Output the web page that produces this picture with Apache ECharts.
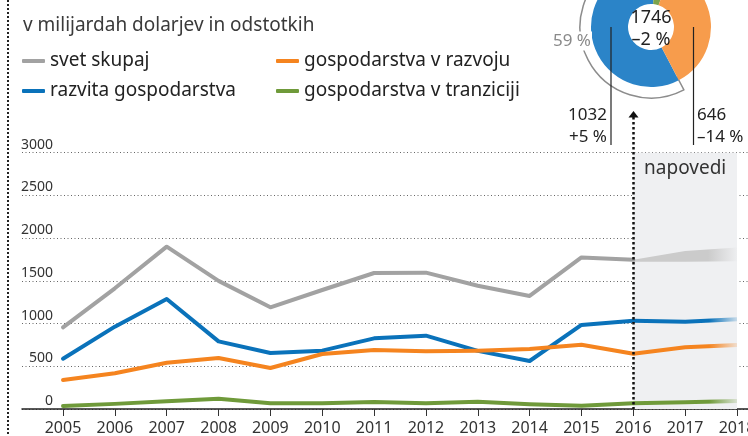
<!DOCTYPE html>
<html><head><meta charset="utf-8">
<script src="https://cdn.jsdelivr.net/npm/echarts@6/dist/echarts.min.js"></script>
<style>html,body{margin:0;padding:0;background:#fff}#c{width:748px;height:436px}</style>
</head><body><div id="c"></div>
<script>
// ---- data ----
const years = [2005, 2006, 2007, 2008, 2009, 2010, 2011, 2012, 2013, 2014, 2015, 2016];
const forecastYears = [2016, 2017, 2018];
const tickYears = [2005, 2006, 2007, 2008, 2009, 2010, 2011, 2012, 2013, 2014, 2015, 2016, 2017, 2018];
const world      = [956, 1413, 1900, 1500, 1190, 1393, 1592, 1596, 1443, 1323, 1774, 1746];
const developed  = [589, 964, 1288, 792, 655, 683, 827, 858, 680, 562, 984, 1032];
const developing = [339, 418, 542, 597, 480, 644, 690, 675, 682, 702, 752, 646];
const transition = [35, 60, 90, 121, 67, 67, 82, 67, 86, 57, 39, 68];
const worldLow   = [1746, 1748, 1752];
const worldHigh  = [1746, 1850, 1890];
const developedF = [1032, 1022, 1050];
const developingF= [646, 722, 750];
const transitionF= [68, 78, 95];
const yTicks = [0, 500, 1000, 1500, 2000, 2500, 3000];
const names = ['svet skupaj', 'razvita gospodarstva', 'gospodarstva v razvoju', 'gospodarstva v tranziciji'];

const FONT = '"Noto Sans", "DejaVu Sans", sans-serif';
const C = { world: '#a2a2a2', dev: '#0a72ba', devg: '#f5841f', tr: '#6f9a3a' };
const PIE = { dev: '#2b84c8', devg: '#f79c4c', tr: '#7ba34c' };

const pairs = (xs, ys) => xs.map((x, i) => [x, ys[i]]);
function fade(col, rgb, a) {
  return new echarts.graphic.LinearGradient(0, 0, 1, 0, [
    { offset: 0, color: col }, { offset: 0.72, color: col }, { offset: 1, color: 'rgba(' + rgb + ',' + (a == null ? 0.1 : a) + ')' }
  ]);
}
const last = years.length - 1;
const pct = (a, b) => { const v = Math.round((a - b) / b * 100); return (v > 0 ? '+' : '\u2013') + Math.abs(v) + ' %'; };

function mainLine(name, data, color) {
  return { name, type: 'line', data: pairs(years, data), showSymbol: false, symbol: 'none',
    lineStyle: { width: 4, color, join: 'round', cap: 'round' }, itemStyle: { color }, z: 3, silent: true };
}
function fcLine(name, data, color, rgb) {
  return { name, type: 'line', data: pairs(forecastYears, data), showSymbol: false, symbol: 'none',
    lineStyle: { width: 4, color: fade(color, rgb), join: 'round' }, z: 3, silent: true };
}

const chart = echarts.init(document.getElementById('c'), null, { renderer: 'canvas' });
const legendCommon = { orient: 'vertical', itemWidth: 23, itemHeight: 4, itemGap: 10, icon: 'roundRect',
  selectedMode: false, padding: 0, textStyle: { fontSize: 19, color: '#222', fontFamily: FONT, lineHeight: 20 } };

const option = {
  animation: false,
  title: { text: 'v milijardah dolarjev in odstotkih', left: 18, top: 11,
    textStyle: { fontSize: 19, fontWeight: 'normal', color: '#3a3a3a', fontFamily: FONT } },
  legend: [
    Object.assign({ data: [names[0], names[1]], left: 22, top: 51 }, legendCommon),
    Object.assign({ data: [names[2], names[3]], left: 276, top: 51 }, legendCommon)
  ],
  grid: { left: 22, right: 0, top: 152.7, bottom: 27, outerBoundsMode: 'none', containLabel: false },
  xAxis: { type: 'value', min: 2004.209, max: 2018.212,
    axisLine: { show: true, lineStyle: { color: '#222', width: 1.5 } },
    axisTick: { show: true, customValues: tickYears, length: 7, lineStyle: { color: '#333', width: 1 } },
    axisLabel: { customValues: tickYears, formatter: v => String(v), fontSize: 16, color: '#333', fontFamily: FONT, margin: 11 },
    splitLine: { show: false } },
  yAxis: { type: 'value', min: 0, max: 3000, interval: 500,
    axisLine: { show: false }, axisTick: { show: false },
    axisLabel: { inside: true, align: 'right', margin: 31, verticalAlign: 'bottom', lineHeight: 16,
      formatter: v => String(v), fontSize: 14, color: '#333', fontFamily: FONT },
    splitLine: { show: true, lineStyle: { color: '#666', width: 1, type: [1, 2.5] } } },
  series: [
    { name: '_shade', type: 'line', data: [], silent: true,
      markArea: { silent: true, itemStyle: { color: '#eff0f2' },
        label: { show: true, position: 'insideTop', formatter: 'napovedi', fontSize: 19, color: '#333', fontFamily: FONT, distance: 6 },
        data: [[{ xAxis: forecastYears[0], yAxis: yTicks[0] }, { xAxis: forecastYears[2], yAxis: yTicks[6] }]] } },
    { name: '_wband', type: 'custom', silent: true, z: 3,
      data: forecastYears.map((y, i) => [y, worldLow[i], worldHigh[i]]),
      encode: { x: 0, y: [1, 2] },
      renderItem: function (params, api) {
        if (params.dataIndex !== 0) return null;
        const pts = [];
        for (let i = 0; i < forecastYears.length; i++) pts.push(api.coord([forecastYears[i], worldHigh[i]]));
        for (let i = forecastYears.length - 1; i >= 0; i--) {
          const p = api.coord([forecastYears[i], worldLow[i]]);
          pts.push([p[0], p[1] + 2]);
        }
        return { type: 'polygon', shape: { points: pts }, style: { fill: fade('#cbcbcb', '203,203,203', 0.05) } };
      } },
    fcLine('_devF', developedF, C.dev, '10,114,186'),
    fcLine('_devgF', developingF, C.devg, '245,132,31'),
    fcLine('_trF', transitionF, C.tr, '111,154,58'),
    mainLine(names[0], world, C.world),
    mainLine(names[1], developed, C.dev),
    mainLine(names[2], developing, C.devg),
    mainLine(names[3], transition, C.tr),
    { name: '_arc', type: 'pie', center: [651, 27], radius: [57, 71], startAngle: -62.4, clockwise: true,
      silent: true, z: 2, label: { show: false }, labelLine: { show: false }, emphasis: { disabled: true },
      data: [
        { name: 'a1', value: developed[last], itemStyle: { color: 'rgba(0,0,0,0)', borderColor: '#8c8c8c', borderWidth: 1.5 } },
        { name: 'a2', value: transition[last], itemStyle: { color: 'rgba(0,0,0,0)', borderWidth: 0 } },
        { name: 'a3', value: developing[last], itemStyle: { color: 'rgba(0,0,0,0)', borderWidth: 0 } }
      ] },
    { name: '_donut', type: 'pie', center: [651, 27], radius: [23, 60], startAngle: -62.4, clockwise: true,
      silent: true, z: 4, label: { show: false }, labelLine: { show: false }, emphasis: { disabled: true },
      data: [
        { name: 'd1', value: developed[last], itemStyle: { color: PIE.dev, borderWidth: 0 } },
        { name: 'd2', value: transition[last], itemStyle: { color: PIE.tr, borderWidth: 0 } },
        { name: 'd3', value: developing[last], itemStyle: { color: PIE.devg, borderWidth: 0 } }
      ] }
  ]
};
chart.setOption(option);

const pTop = chart.convertToPixel({ gridIndex: 0 }, [forecastYears[0], yTicks[6]]);
const pBot = chart.convertToPixel({ gridIndex: 0 }, [forecastYears[0], yTicks[0]]);
const ax = Math.round(pTop[0]) + 0.5;
const txt = (x, y, text, align, color, extra) => Object.assign({ type: 'text', x, y, z: 20,
  style: Object.assign({ text, fill: color || '#222', font: '17px ' + FONT, align: align || 'center', verticalAlign: 'middle' }, extra || {}) });
const share = Math.round(developed[last] / world[last] * 100) + ' %';

chart.setOption({ graphic: [
  { type: 'line', z: 20, shape: { x1: 8, y1: 0, x2: 8, y2: 436 }, style: { stroke: '#222', lineWidth: 2, lineDash: [2, 2] } },
  { type: 'line', z: 20, shape: { x1: ax, y1: 117, x2: ax, y2: pBot[1] }, style: { stroke: '#111', lineWidth: 2.5, lineDash: [2.5, 2.5] } },
  { type: 'polygon', z: 20, shape: { points: [[ax, 111], [ax - 5, 117.5], [ax + 5, 117.5]] }, style: { fill: '#111' } },
  { type: 'line', z: 20, shape: { x1: 611, y1: 27, x2: 611, y2: 145 }, style: { stroke: '#222', lineWidth: 1.2 } },
  { type: 'line', z: 20, shape: { x1: 693.5, y1: 27, x2: 693.5, y2: 145 }, style: { stroke: '#222', lineWidth: 1.2 } },
  txt(651, 18, String(world[last]), 'center', '#222', { font: '18px ' + FONT }),
  txt(651, 40, pct(world[last], world[last - 1]), 'center', '#222', { font: '18px ' + FONT }),
  txt(592, 41, share, 'right', '#8a8a8a', { backgroundColor: '#fff', padding: [1, 1, 1, 2] }),
  txt(607, 115, String(developed[last]), 'right'),
  txt(607, 137, pct(developed[last], developed[last - 1]), 'right'),
  txt(697, 115, String(developing[last]), 'left'),
  txt(697, 137, pct(developing[last], developing[last - 1]), 'left')
] });
</script>
</body></html>
